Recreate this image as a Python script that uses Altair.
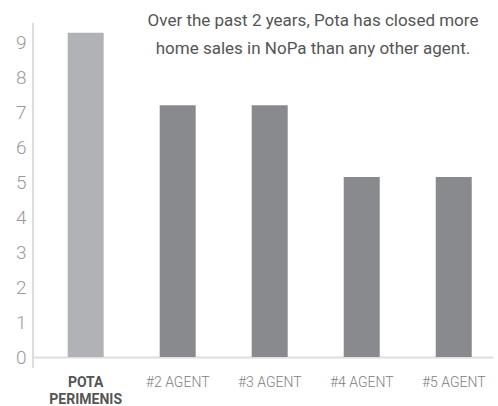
import altair as alt
import pandas as pd

agents = ["POTA PERIMENIS", "#2 AGENT", "#3 AGENT", "#4 AGENT", "#5 AGENT"]
sales = [9.27, 7.2, 7.2, 5.15, 5.15]
highlight = [True, False, False, False, False]

df = pd.DataFrame({"agent": agents, "sales": sales, "hl": highlight})

FONT = "Roboto"

bars = alt.Chart(df).mark_bar(size=36).encode(
    x=alt.X("agent:N", sort=agents,
            scale=alt.Scale(paddingInner=0.609, paddingOuter=0.304, align=0.62),
            axis=alt.Axis(title=None, ticks=False, domain=True, domainColor="#dddddd",
                          domainWidth=2, labelAngle=0, labelPadding=18,
                          labelFontSize=14, labelFont=FONT, labelBaseline="top",
                          labelColor=alt.ExprRef("datum.value == 'POTA PERIMENIS' ? '#555555' : '#808080'"),
                          labelFontWeight=alt.ExprRef("datum.value == 'POTA PERIMENIS' ? 'bold' : 300"),
                          labelExpr="datum.value == 'POTA PERIMENIS' ? ['POTA', 'PERIMENIS'] : datum.value",
                          labelLineHeight=17)),
    y=alt.Y("sales:Q", scale=alt.Scale(domain=[0, 9.55], nice=False, zero=True),
            axis=alt.Axis(title=None, values=list(range(0, 10)), grid=False, ticks=False,
                          domain=False, labelPadding=7, labelFontSize=19, labelFont=FONT,
                          labelColor="#9a9a9a", labelFontWeight=300)),
    color=alt.Color("hl:N", scale=alt.Scale(domain=[True, False], range=["#b1b2b5", "#898a8d"]),
                    legend=None),
)

yline = alt.Chart(df).mark_rule(color="#dddddd", strokeWidth=2).encode(
    x=alt.value(0), y=alt.value(0), y2=alt.value(345)
)

chart = alt.layer(bars, yline).properties(
    width=460, height=334,
    padding={"left": 33, "top": 23, "right": 5, "bottom": 49},
    autosize=alt.AutoSizeParams(type="none"),
    title=alt.Title(
        text=["Over the past 2 years, Pota has closed more", "home sales in NoPa than any other agent."],
        fontSize=17, font=FONT, color="#555555", fontWeight="normal",
        anchor="middle", align="center", dx=50, offset=-36, lineHeight=28,
    ),
).configure_view(stroke=None)

chart.save("out.html", embed_options={"renderer": "svg", "actions": False})
